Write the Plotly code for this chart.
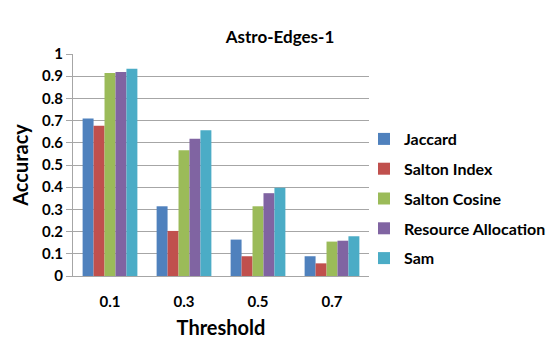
import plotly.graph_objects as go

thresholds = ["0.1", "0.3", "0.5", "0.7"]
jaccard = [0.71, 0.314, 0.164, 0.089]
salton_index = [0.677, 0.203, 0.089, 0.057]
salton_cosine = [0.914, 0.567, 0.314, 0.155]
resource_allocation = [0.919, 0.618, 0.373, 0.159]
sam = [0.934, 0.657, 0.398, 0.179]

series = [
    ("Jaccard", jaccard, "#4F81BD"),
    ("Salton Index", salton_index, "#C0504D"),
    ("Salton Cosine", salton_cosine, "#9BBB59"),
    ("Resource Allocation", resource_allocation, "#8064A2"),
    ("Sam", sam, "#4BACC6"),
]

# page body has an 8px default margin; figure is sized/offset to compensate
W, H = 547, 332
PL, PT, PR, PB = 65, 46, 361, 268  # plot area in figure pixels

FONT = "Lato"
fig = go.Figure()
for name, vals, col in series:
    fig.add_trace(go.Bar(x=thresholds, y=vals, name="<b>" + name + "</b>",
                         marker_color=col, marker_line_width=0, legendgroup=name))

fig.update_layout(
    width=W, height=H,
    margin=dict(l=PL, r=W - PR, t=PT, b=H - PB, autoexpand=False),
    paper_bgcolor="white", plot_bgcolor="white",
    barmode="group", bargap=0.26, bargroupgap=0,
    font=dict(family=FONT, color="black"),
    title=dict(text="<b>Astro-Edges-1</b>", x=272 / W, xanchor="center",
               y=1 - 29 / H, yanchor="middle", font=dict(size=17, family=FONT),
               automargin=False),
    legend=dict(x=(356 - PL) / (PR - PL), xanchor="left", y=(PB - 114) / (PB - PT),
                yanchor="top", font=dict(size=16, family=FONT), tracegroupgap=6,
                itemwidth=30, bgcolor="rgba(0,0,0,0)"),
    xaxis=dict(title=dict(text="<b>Threshold</b>", font=dict(size=20), standoff=11),
               tickfont=dict(size=15), tickprefix="<b>", ticksuffix="</b>",
               showline=True, linecolor="#A6A6A6", ticks="outside", ticklen=12,
               tickcolor="rgba(0,0,0,0)", showgrid=False, automargin=False),
    yaxis=dict(title=dict(text="<b>Accuracy</b>", font=dict(size=20), standoff=8),
               range=[0, 1], dtick=0.1, tickfont=dict(size=15),
               tickprefix="<b>", ticksuffix="</b>",
               showgrid=True, gridcolor="#A6A6A6", gridwidth=1,
               showline=True, linecolor="#A6A6A6", ticks="outside",
               ticklen=6, tickcolor="#A6A6A6", zeroline=False,
               tickformat=".1~f", automargin=False),
)

fig.write_html("out.html")
